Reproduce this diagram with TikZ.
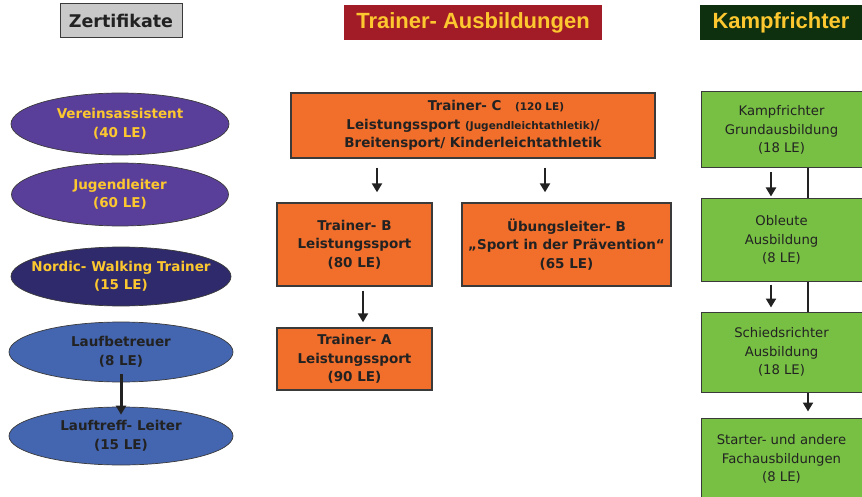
\documentclass[tikz,border=0pt]{standalone}
\usepackage{fontspec}
\setmainfont{DejaVu Sans}
\newfontfamily\arialf{Liberation Sans}
\usetikzlibrary{shapes.geometric,arrows.meta}
\definecolor{hdgray}{HTML}{C9C9C9}
\definecolor{hdred}{HTML}{A11C26}
\definecolor{hdgreen}{HTML}{0E300F}
\definecolor{gold}{HTML}{FDC82F}
\definecolor{purp}{HTML}{5A3F9A}
\definecolor{navy}{HTML}{2E2A6B}
\definecolor{lblue}{HTML}{4465AF}
\definecolor{orng}{HTML}{F26E2B}
\definecolor{grn}{HTML}{77C043}
\definecolor{ink}{HTML}{222222}
\definecolor{edge}{HTML}{3A3A3A}
\pgfdeclarelayer{background}
\pgfsetlayers{background,main}
\tikzset{
  hdbox/.style={rectangle,inner sep=0pt,text=gold,font=\arialf\bfseries\fontsize{22}{24}\selectfont},
  ell/.style={ellipse,draw=edge,line width=0.7pt,inner xsep=-40pt,inner ysep=-10pt,align=center,font=\bfseries\fontsize{13.5}{18.5}\selectfont},
  obox/.style={rectangle,draw=edge,line width=1.4pt,fill=orng,text=ink,inner sep=0pt,align=center,font=\bfseries\fontsize{13.5}{18.5}\selectfont},
  gbox/.style={rectangle,draw=edge,line width=1pt,fill=grn,text=ink,inner sep=0pt,align=center,font=\fontsize{13.2}{18.5}\selectfont},
  arr/.style={draw=ink,line width=2.6pt,-{Triangle[width=10pt,length=9pt]}}
}
\begin{document}
\begin{tikzpicture}[x=1pt,y=-1pt]
\useasboundingbox (0,0) rectangle (862,497);
% headers
\node[rectangle,draw=edge,line width=1pt,fill=hdgray,minimum width=122pt,minimum height=34pt,inner sep=0pt,text=ink,font=\bfseries\fontsize{17.5}{20}\selectfont] (zert) at (121,21) {Zertifikate};
\node[hdbox,fill=hdred,minimum width=258pt,minimum height=35pt] (trhead) at (473,22.5) {Trainer- Ausbildungen};
\node[hdbox,fill=hdgreen,minimum width=162pt,minimum height=35pt] (kphead) at (781,22.5) {Kampfrichter};
% ellipses
\node[ell,fill=purp,text=gold,minimum width=218pt,minimum height=62pt] (ve) at (120,124) {Vereinsassistent\\(40 LE)};
\node[ell,fill=purp,text=gold,minimum width=217pt,minimum height=63pt] (ju) at (120,194.5) {Jugendleiter\\(60 LE)};
\node[ell,fill=navy,text=gold,minimum width=220pt,minimum height=59pt] (no) at (121,276.5) {Nordic- Walking Trainer\\(15 LE)};
\node[ell,fill=lblue,text=ink,minimum width=224pt,minimum height=60pt] (lb) at (121,352) {Laufbetreuer\\(8 LE)};
\node[ell,fill=lblue,text=ink,minimum width=224pt,minimum height=58pt] (lt) at (121,436) {Lauftreff- Leiter\\(15 LE)};
\draw[arr,line width=3pt] ([yshift=-22pt]lb.center) -- ([yshift=-8pt]lt.north);
% trainer boxes
\node[obox,minimum width=364pt,minimum height=65pt] (tc) at (473,125.5) {\hspace*{46pt}Trainer- C\quad{\fontsize{10.5}{12}\selectfont(120 LE)}\\Leistungssport {\fontsize{10.5}{12}\selectfont(Jugendleichtathletik)}/\\Breitensport/ Kinderleichtathletik};
\node[obox,minimum width=155pt,minimum height=83pt] (tb) at (354.5,244.5) {Trainer- B\\Leistungssport\\(80 LE)};
\node[obox,minimum width=209pt,minimum height=83pt] (ul) at (566.5,244.5) {Übungsleiter- B\\„Sport in der Prävention“\\(65 LE)};
\node[obox,minimum width=155pt,minimum height=62pt] (ta) at (354.5,359) {Trainer- A\\Leistungssport\\(90 LE)};
\draw[arr] ([xshift=-96pt,yshift=-9pt]tc.south) -- ([xshift=22.5pt,yshift=10pt]tb.north);
\draw[arr] ([xshift=72pt,yshift=-9pt]tc.south) -- ([xshift=-21.5pt,yshift=10pt]ul.north);
\draw[arr] ([xshift=8.5pt,yshift=-4pt]tb.south) -- ([xshift=8.5pt,yshift=5pt]ta.north);
% kampfrichter boxes
\node[gbox,minimum width=161pt,minimum height=76pt] (kg) at (781.5,130) {Kampfrichter\\Grundausbildung\\(18 LE)};
\node[gbox,minimum width=161pt,minimum height=82pt] (ob) at (781.5,240) {Obleute\\Ausbildung\\(8 LE)};
\node[gbox,minimum width=161pt,minimum height=80pt] (sr) at (781.5,352) {Schiedsrichter\\Ausbildung\\(18 LE)};
\node[gbox,minimum width=161pt,minimum height=82pt] (st) at (781.5,459) {Starter- und andere\\Fachausbildungen\\(8 LE)};
\draw[arr] ([xshift=-10.5pt,yshift=-4pt]kg.south) -- ([xshift=-10.5pt,yshift=2pt]ob.north);
\draw[arr] ([xshift=-10.5pt,yshift=-3pt]ob.south) -- ([xshift=-10.5pt,yshift=4pt]sr.north);
\begin{pgfonlayer}{background}
\draw[arr] ([xshift=26.5pt]kg.south) -- ([xshift=26.5pt,yshift=6pt]st.north);
\end{pgfonlayer}
\end{tikzpicture}
\end{document}
